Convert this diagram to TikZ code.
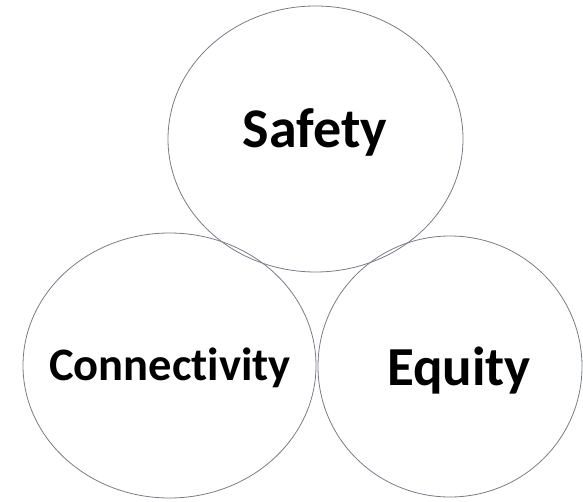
\documentclass[tikz,border=0pt]{standalone}
\usepackage{fontspec}
\setmainfont{Carlito}[Ligatures=NoCommon]
\usetikzlibrary{shapes.geometric}
\definecolor{ringgray}{RGB}{118,124,136}
\begin{document}
\begin{tikzpicture}[x=1pt,y=-1pt,
  ring/.style={ellipse,draw=ringgray,line width=0.8pt,inner sep=0pt},
  lbl/.style={anchor=base,font=\bfseries,text=black,inner sep=0pt}]
\useasboundingbox (0,0) rectangle (583,502);
\node[ring,minimum width=295pt,minimum height=266pt] (top) at (315.5,139) {};
\node[ring,minimum width=293pt,minimum height=265pt] (left) at (169.5,365.5) {};
\node[ring,minimum width=264pt,minimum height=261pt] (right) at (450,366.5) {};
\node[lbl,font=\fontsize{56}{62}\selectfont\bfseries] (safety) at (315,148) {Safety};
\node[lbl,font=\fontsize{46.5}{52}\selectfont\bfseries] (conn) at (170,380) {Connectivity};
\node[lbl,font=\fontsize{55}{62}\selectfont\bfseries] (equity) at (459,385) {Equity};
\end{tikzpicture}
\end{document}
